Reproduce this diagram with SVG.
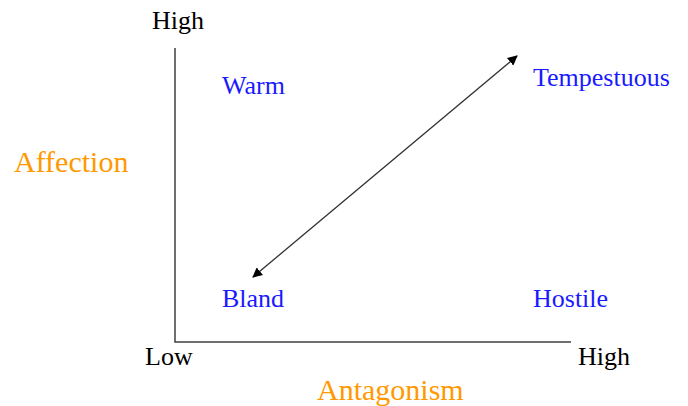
<svg xmlns="http://www.w3.org/2000/svg" width="688" height="406" viewBox="0 0 688 406">
<style>
text{font-family:"Liberation Serif","Times New Roman",serif}
.ax{fill:#000;font-size:26px}
.q{fill:#1a1aff;font-size:26px}
.t{fill:#ff9900;font-size:30px}
.axis{stroke:#404040;stroke-width:1.5;fill:none}
</style>
<defs>
<marker id="ah" viewBox="0 0 10 10" refX="9" refY="5" markerWidth="10" markerHeight="10" markerUnits="userSpaceOnUse" orient="auto-start-reverse">
<path d="M0,0 L10,5 L0,10 z" fill="#000"/>
</marker>
</defs>
<rect width="688" height="406" fill="#fff"/>
<g id="connectors">
<path class="axis" d="M175,48 V342 H571"/>
<line x1="253" y1="277" x2="517" y2="56" stroke="#333" stroke-width="1.3" marker-start="url(#ah)" marker-end="url(#ah)"/>
</g>
<g id="axis-labels">
<text class="ax" x="152" y="29">High</text>
<text class="ax" x="145" y="365">Low</text>
<text class="ax" x="578" y="365">High</text>
<text class="t" x="14" y="172">Affection</text>
<text class="t" x="317" y="400">Antagonism</text>
</g>
<g id="warm"><text class="q" x="222" y="94">Warm</text></g>
<g id="tempestuous"><text class="q" x="533" y="86">Tempestuous</text></g>
<g id="bland"><text class="q" x="222" y="307">Bland</text></g>
<g id="hostile"><text class="q" x="533" y="307">Hostile</text></g>
</svg>
